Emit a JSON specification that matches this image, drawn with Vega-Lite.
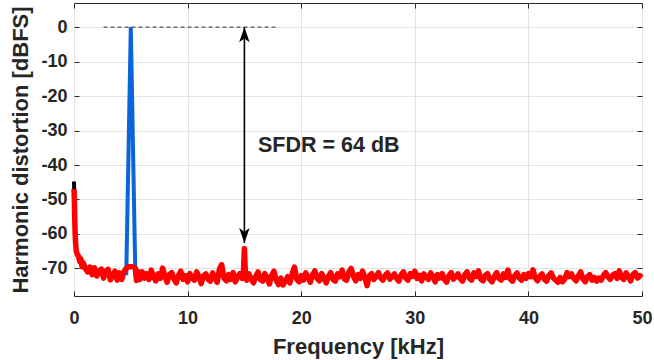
{
"$schema":"https://vega.github.io/schema/vega-lite/v6.json",
"width":568,"height":293,"autosize":"none",
"padding":{"left":74,"top":3,"right":12,"bottom":64},
"background":"white",
"config":{"view":{"stroke":"#262626","strokeWidth":1},
"axis":{"labelFont":"Liberation Sans","labelFontWeight":"bold","labelFontSize":18,"labelColor":"#262626","labelFlush":false,"titleFont":"Liberation Sans","titleFontWeight":"bold","titleFontSize":22,"titleColor":"#262626","domain":false,"tickColor":"#262626","tickSize":-5,"gridColor":"#e3e3e3","gridWidth":1}},
"datasets":{
"blue":[{"f":4.6,"v":-72},{"f":5.0,"v":0},{"f":5.4,"v":-72}],
"black":[{"f":0,"v":-44.8},{"f":0.02,"v":-48},{"f":0.05,"v":-55}],
"red":[{"f":0,"v":-47},{"f":0.03,"v":-50},{"f":0.06,"v":-55},{"f":0.1,"v":-60},{"f":0.15,"v":-63},{"f":0.2,"v":-65},{"f":0.3,"v":-66},{"f":0.4,"v":-66.5},{"f":0.5,"v":-68},{"f":0.6,"v":-67.2},{"f":0.7,"v":-69.5},{"f":0.8,"v":-68.3},{"f":1.0,"v":-70},{"f":1.2,"v":-71},{"f":1.4,"v":-69.6},{"f":1.6,"v":-71.8},{"f":1.8,"v":-69.8},{"f":2.0,"v":-72.2},{"f":2.2,"v":-70.8},{"f":2.4,"v":-70.2},{"f":2.6,"v":-72.8},{"f":2.8,"v":-70.7},{"f":3.0,"v":-70.3},{"f":3.2,"v":-73.3},{"f":3.4,"v":-72.2},{"f":3.6,"v":-70.8},{"f":3.8,"v":-73.4},{"f":4.0,"v":-71.3},{"f":4.2,"v":-73.2},{"f":4.4,"v":-70.9},{"f":4.6,"v":-70},{"f":4.8,"v":-69.5},{"f":5.0,"v":-69.5},{"f":5.2,"v":-69.5},{"f":5.4,"v":-70},{"f":5.5,"v":-73.5},{"f":5.6,"v":-70.8},{"f":5.8,"v":-73.2},
{"f":6.0,"v":-71.0},{"f":6.2,"v":-72.8},{"f":6.4,"v":-71.5},{"f":6.6,"v":-73.2},{"f":6.8,"v":-70.5},{"f":7.0,"v":-72.4},{"f":7.2,"v":-73.6},{"f":7.4,"v":-71.6},{"f":7.6,"v":-72.9},{"f":7.8,"v":-69.9},{"f":8.0,"v":-72.3},{"f":8.2,"v":-74.0},{"f":8.4,"v":-71.8},{"f":8.6,"v":-71.2},{"f":8.8,"v":-73.1},{"f":9.0,"v":-74.2},{"f":9.2,"v":-72.0},{"f":9.4,"v":-70.8},{"f":9.6,"v":-73.2},{"f":9.8,"v":-72.1},
{"f":10.0,"v":-73.9},{"f":10.2,"v":-71.5},{"f":10.4,"v":-72.8},{"f":10.6,"v":-73.4},{"f":10.8,"v":-71.0},{"f":11.0,"v":-72.4},{"f":11.2,"v":-74.4},{"f":11.4,"v":-72.1},{"f":11.6,"v":-71.6},{"f":11.8,"v":-73.1},{"f":12.0,"v":-73.7},{"f":12.2,"v":-71.3},{"f":12.4,"v":-72.6},{"f":12.6,"v":-74.0},{"f":12.8,"v":-70.2},{"f":13.0,"v":-68.9},{"f":13.2,"v":-72.8},{"f":13.4,"v":-73.6},{"f":13.6,"v":-71.8},{"f":13.8,"v":-73.2},{"f":14.0,"v":-71.2},{"f":14.2,"v":-73.9},{"f":14.4,"v":-72.4},{"f":14.6,"v":-71.5},{"f":14.8,"v":-72.9},{"f":14.9,"v":-72.1},{"f":15.0,"v":-64.2},{"f":15.1,"v":-72.6},{"f":15.2,"v":-73.4},{"f":15.4,"v":-71.6},{"f":15.6,"v":-73.1},{"f":15.8,"v":-74.2},{"f":16.0,"v":-72.3},{"f":16.2,"v":-71.0},{"f":16.4,"v":-73.2},{"f":16.6,"v":-73.7},{"f":16.8,"v":-71.5},{"f":17.0,"v":-72.8},{"f":17.2,"v":-74.5},{"f":17.4,"v":-72.0},{"f":17.6,"v":-70.8},{"f":17.8,"v":-73.4},{"f":18.0,"v":-74.7},{"f":18.2,"v":-72.8},{"f":18.4,"v":-74.8},{"f":18.6,"v":-73.7},{"f":18.8,"v":-72.4},{"f":19.0,"v":-74.2},{"f":19.2,"v":-71.6},{"f":19.4,"v":-69.6},{"f":19.6,"v":-73.1},{"f":19.8,"v":-73.9},
{"f":20.0,"v":-72.1},{"f":20.2,"v":-73.4},{"f":20.4,"v":-71.3},{"f":20.6,"v":-72.6},{"f":20.8,"v":-74.0},{"f":21.0,"v":-71.8},{"f":21.2,"v":-70.7},{"f":21.4,"v":-72.9},{"f":21.6,"v":-73.6},{"f":21.8,"v":-71.5},{"f":22.0,"v":-72.8},{"f":22.2,"v":-74.2},{"f":22.4,"v":-72.3},{"f":22.6,"v":-71.2},{"f":22.8,"v":-73.2},{"f":23.0,"v":-73.7},{"f":23.2,"v":-71.6},{"f":23.4,"v":-72.4},{"f":23.6,"v":-70.5},{"f":23.8,"v":-73.1},{"f":24.0,"v":-73.4},{"f":24.2,"v":-71.0},{"f":24.4,"v":-70.0},{"f":24.6,"v":-72.3},{"f":24.8,"v":-73.6},{"f":25.0,"v":-71.8},{"f":25.2,"v":-72.9},{"f":25.4,"v":-70.8},{"f":25.6,"v":-72.6},{"f":25.8,"v":-75.0},{"f":26.0,"v":-72.1},{"f":26.2,"v":-71.5},{"f":26.4,"v":-73.2},{"f":26.6,"v":-72.3},{"f":26.8,"v":-71.2},{"f":27.0,"v":-72.8},{"f":27.2,"v":-73.4},{"f":27.4,"v":-72.0},{"f":27.6,"v":-71.3},{"f":27.8,"v":-73.1},{"f":28.0,"v":-72.4},{"f":28.2,"v":-71.6},{"f":28.4,"v":-72.9},{"f":28.6,"v":-73.7},{"f":28.8,"v":-71.8},{"f":29.0,"v":-71.0},{"f":29.2,"v":-72.8},{"f":29.4,"v":-73.4},{"f":29.6,"v":-71.5},{"f":29.8,"v":-72.3},
{"f":30.0,"v":-70.8},{"f":30.2,"v":-72.9},{"f":30.4,"v":-72.0},{"f":30.6,"v":-73.6},{"f":30.8,"v":-71.6},{"f":31.0,"v":-72.6},{"f":31.2,"v":-73.2},{"f":31.4,"v":-71.3},{"f":31.6,"v":-72.3},{"f":31.8,"v":-73.9},{"f":32.0,"v":-71.8},{"f":32.2,"v":-72.8},{"f":32.4,"v":-71.5},{"f":32.6,"v":-73.2},{"f":32.8,"v":-74.0},{"f":33.0,"v":-72.1},{"f":33.2,"v":-71.2},{"f":33.4,"v":-73.1},{"f":33.6,"v":-72.4},{"f":33.8,"v":-71.6},{"f":34.0,"v":-72.9},{"f":34.2,"v":-73.7},{"f":34.4,"v":-71.8},{"f":34.6,"v":-71.0},{"f":34.8,"v":-72.8},{"f":35.0,"v":-73.4},{"f":35.2,"v":-71.3},{"f":35.4,"v":-72.3},{"f":35.6,"v":-70.7},{"f":35.8,"v":-73.1},{"f":36.0,"v":-73.6},{"f":36.2,"v":-72.0},{"f":36.4,"v":-71.5},{"f":36.6,"v":-73.2},{"f":36.8,"v":-73.9},{"f":37.0,"v":-72.4},{"f":37.2,"v":-71.2},{"f":37.4,"v":-72.9},{"f":37.6,"v":-73.4},{"f":37.8,"v":-71.6},{"f":38.0,"v":-72.6},{"f":38.2,"v":-70.5},{"f":38.4,"v":-73.1},{"f":38.6,"v":-73.7},{"f":38.8,"v":-72.1},{"f":39.0,"v":-71.3},{"f":39.2,"v":-72.8},{"f":39.4,"v":-73.4},{"f":39.6,"v":-71.8},{"f":39.8,"v":-72.9},
{"f":40.0,"v":-71.5},{"f":40.2,"v":-72.4},{"f":40.4,"v":-70.4},{"f":40.6,"v":-72.8},{"f":40.8,"v":-73.6},{"f":41.0,"v":-72.3},{"f":41.2,"v":-71.6},{"f":41.4,"v":-73.1},{"f":41.6,"v":-73.7},{"f":41.8,"v":-72.0},{"f":42.0,"v":-71.3},{"f":42.2,"v":-72.8},{"f":42.4,"v":-73.4},{"f":42.6,"v":-74.0},{"f":42.8,"v":-72.6},{"f":43.0,"v":-73.9},{"f":43.2,"v":-73.1},{"f":43.4,"v":-71.2},{"f":43.6,"v":-72.4},{"f":43.8,"v":-71.6},{"f":44.0,"v":-72.9},{"f":44.2,"v":-73.6},{"f":44.4,"v":-72.1},{"f":44.6,"v":-71.0},{"f":44.8,"v":-73.1},{"f":45.0,"v":-73.9},{"f":45.2,"v":-72.4},{"f":45.4,"v":-71.8},{"f":45.6,"v":-73.4},{"f":45.8,"v":-72.6},{"f":46.0,"v":-73.7},{"f":46.2,"v":-72.8},{"f":46.4,"v":-73.4},{"f":46.6,"v":-72.1},{"f":46.8,"v":-71.2},{"f":47.0,"v":-72.4},{"f":47.2,"v":-73.2},{"f":47.4,"v":-72.0},{"f":47.6,"v":-71.5},{"f":47.8,"v":-72.9},{"f":48.0,"v":-70.7},{"f":48.2,"v":-72.6},{"f":48.4,"v":-73.2},{"f":48.6,"v":-71.3},{"f":48.8,"v":-72.4},{"f":49.0,"v":-73.6},{"f":49.2,"v":-71.8},{"f":49.4,"v":-71.2},{"f":49.6,"v":-72.8},{"f":49.8,"v":-72.1},{"f":50.0,"v":-72.6}],
"ref":[{"f":2.6,"v":0},{"f":18.0,"v":0}],
"arrow":[{"f":15,"v":0,"f2":15,"v2":-62.6}],
"headUp":[{"f":15,"v":0}],
"headDown":[{"f":15,"v":-62.6}],
"label":[{"f":16.2,"v":-34.6,"t":"SFDR = 64 dB"}]
},
"layer":[
{"data":{"name":"blue"},"mark":{"type":"line","color":"#0A64DC","strokeWidth":4},
 "encoding":{"x":{"field":"f","type":"quantitative","scale":{"domain":[0,50],"nice":false},"title":"Frequency [kHz]","axis":{"values":[0,10,20,30,40,50],"labelPadding":18,"titlePadding":9}},
 "y":{"field":"v","type":"quantitative","scale":{"domain":[-78,7],"nice":false},"title":"Harmonic distortion [dBFS]","axis":{"values":[-70,-60,-50,-40,-30,-20,-10,0],"labelPadding":12,"titlePadding":8,"labelExpr":"replace(datum.label,'\u2212','-')"}}}},
{"data":{"name":"black"},"mark":{"type":"line","color":"#000000","strokeWidth":4},
 "encoding":{"x":{"field":"f","type":"quantitative","axis":{"orient":"top","labels":false,"title":null,"grid":false,"values":[0,10,20,30,40,50]}},"y":{"field":"v","type":"quantitative","axis":{"orient":"right","labels":false,"title":null,"grid":false,"values":[-70,-60,-50,-40,-30,-20,-10,0]}}}},
{"data":{"name":"red"},"mark":{"type":"line","color":"#FF0000","strokeWidth":5.5,"strokeJoin":"round"},
 "encoding":{"x":{"field":"f","type":"quantitative","axis":null},"y":{"field":"v","type":"quantitative","axis":null}}},
{"data":{"name":"ref"},"mark":{"type":"line","color":"#555555","strokeWidth":1.2,"strokeDash":[4,3]},
 "encoding":{"x":{"field":"f","type":"quantitative","axis":null},"y":{"field":"v","type":"quantitative","axis":null}}},
{"data":{"name":"arrow"},"mark":{"type":"rule","color":"#000000","strokeWidth":1.6},
 "encoding":{"x":{"field":"f","type":"quantitative","axis":null},"y":{"field":"v","type":"quantitative","axis":null},"y2":{"field":"v2"}}},
{"data":{"name":"headUp"},"mark":{"type":"point","filled":true,"color":"#000000","opacity":1,"size":225,"shape":"M0,0 L0.7,2 L0,1.5 L-0.7,2 Z"},
 "encoding":{"x":{"field":"f","type":"quantitative","axis":null},"y":{"field":"v","type":"quantitative","axis":null}}},
{"data":{"name":"headDown"},"mark":{"type":"point","filled":true,"color":"#000000","opacity":1,"size":225,"shape":"M0,0 L0.7,-2 L0,-1.5 L-0.7,-2 Z"},
 "encoding":{"x":{"field":"f","type":"quantitative","axis":null},"y":{"field":"v","type":"quantitative","axis":null}}},
{"data":{"name":"label"},"mark":{"type":"text","align":"left","baseline":"middle","font":"Liberation Sans","fontWeight":"bold","fontSize":21.5,"color":"#262626"},
 "encoding":{"x":{"field":"f","type":"quantitative","axis":null},"y":{"field":"v","type":"quantitative","axis":null},"text":{"field":"t"}}}
],
"resolve":{"axis":{"x":"independent","y":"independent"}}
}
